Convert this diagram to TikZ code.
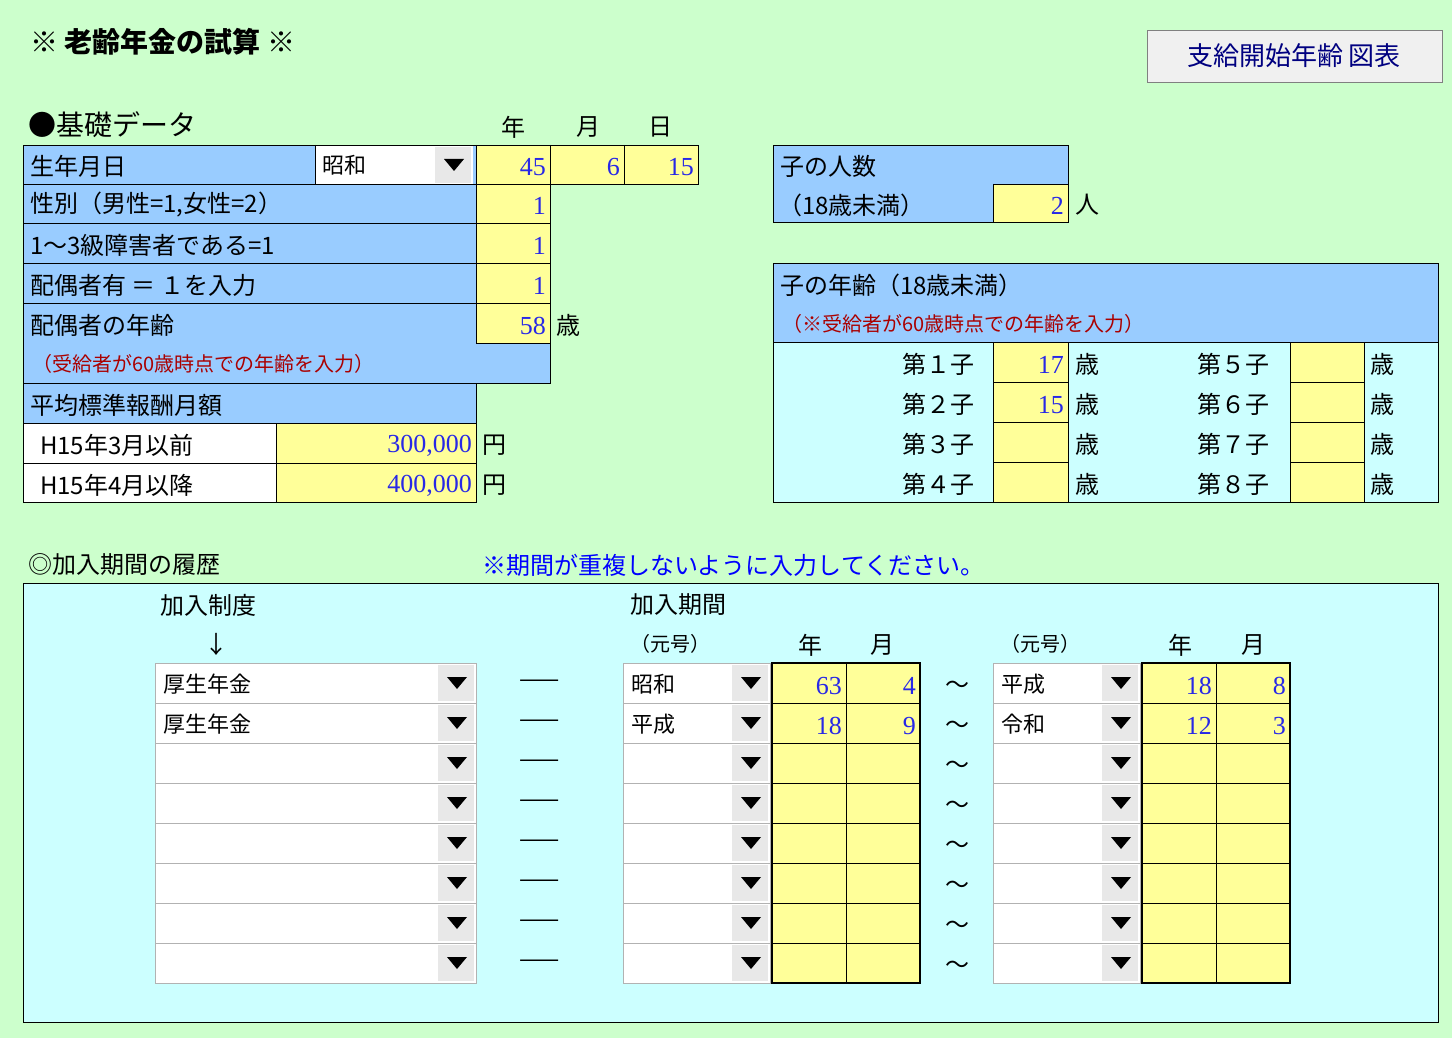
\documentclass[tikz,border=0pt]{standalone}
\usepackage{fontspec}
\setmainfont{Noto Sans CJK JP}
\newfontfamily\numfont{Liberation Serif}
\usepackage{xcolor}
\usepackage{tikz}

\definecolor{bggreen}{RGB}{204,255,204}
\definecolor{cellblue}{RGB}{153,204,255}
\definecolor{cellyellow}{RGB}{255,255,153}
\definecolor{cellcyan}{RGB}{204,255,255}
\definecolor{numblue}{RGB}{40,40,230}
\definecolor{noteRed}{RGB}{170,0,0}

\tikzset{
  lbl/.style={anchor=west, inner sep=0pt, font=\fontsize{24}{28}\selectfont},
  hdr/.style={inner sep=0pt, font=\fontsize{24}{28}\selectfont},
  num/.style={anchor=east, inner sep=0pt, text=numblue, font=\numfont\fontsize{26}{28}\selectfont},
  note/.style={anchor=west, inner sep=0pt, text=noteRed, font=\fontsize{20}{24}\selectfont},
  box/.style={draw=black, line width=0.8pt}
}

% dropdown button: right edge, top edge
\newcommand{\ddbtn}[2]{%
  \fill[gray!18] (#1-38,#2+2) rectangle (#1-2,#2+38);
  \fill (#1-29,#2+14) -- (#1-9,#2+14) -- (#1-19,#2+26) -- cycle;}

\begin{document}
\begin{tikzpicture}[x=1pt,y=-1pt]
\useasboundingbox (0,0) rectangle (1452,1038);
\fill[bggreen] (0,0) rectangle (1452,1038);

% Titel
\node[anchor=west, inner sep=0pt, font=\bfseries\fontsize{28}{30}\selectfont] (title) at (30,42) {※ 老齢年金の試算 ※};
\draw[fill=gray!12, draw=gray] (1147,30) rectangle (1442,82);
\node[hdr, text=blue!50!black, font=\fontsize{26}{28}\selectfont] (btn) at (1294,56) {支給開始年齢 図表};

% Basisdaten
\node[lbl, font=\fontsize{28}{30}\selectfont] (basis) at (28,125) {●基礎データ};
\node[hdr] (hy) at (513,127) {年};
\node[hdr] (hm) at (588,127) {月};
\node[hdr] (hd) at (660,127) {日};

\fill[cellblue] (23,145) rectangle (476,303);
\fill[cellblue] (23,303) rectangle (550,383);
\fill[cellblue] (23,383) rectangle (476,423);
\fill[white] (315,145) rectangle (473,184);
\ddbtn{473}{145}
\fill[cellyellow] (476,145) rectangle (698,184);
\fill[cellyellow] (476,184) rectangle (550,343);
\fill[white] (23,423) rectangle (276,502);
\fill[cellyellow] (276,423) rectangle (476,502);
% Linien
\draw[box] (23,145) rectangle (698,184);
\draw[box] (550,145) -- (550,184) (624,145) -- (624,184) (476,145) -- (476,343);
\draw[box] (315,145) -- (315,184);
\foreach \y in {223,263,303} \draw[box] (23,\y) -- (550,\y);
\draw[box] (23,184) -- (23,383) -- (550,383) -- (550,184);
\draw[box] (476,343) -- (550,343);
\draw[box] (23,383) rectangle (476,502);
\draw[box] (23,423) -- (476,423) (23,463) -- (476,463) (276,423) -- (276,502);

\node[lbl] (birth) at (30,166) {生年月日};
\node[lbl, font=\fontsize{22}{24}\selectfont] (era) at (322,165) {昭和};
\node[num] (by) at (546,167) {45};
\node[num] (bm) at (620,167) {6};
\node[num] (bd) at (694,167) {15};
\node[lbl] (sex) at (30,205) {性別（男性=1,女性=2）};
\node[num] (vsex) at (546,206) {1};
\node[lbl] (handi) at (30,245) {1～3級障害者である=1};
\node[num] (vhandi) at (546,246) {1};
\node[lbl] (spouse) at (30,285) {配偶者有 ＝ １を入力};
\node[num] (vspouse) at (546,286) {1};
\node[lbl] (sage) at (30,325) {配偶者の年齢};
\node[num] (vsage) at (546,326) {58};
\node[lbl] (sai) at (556,325) {歳};
\node[note] (snote) at (32,364) {（受給者が60歳時点での年齢を入力）};
\node[lbl] (avg) at (30,405) {平均標準報酬月額};
\node[lbl] (h15a) at (40,445) {H15年3月以前};
\node[num] (v15a) at (472,446) {300,000};
\node[lbl] (yen1) at (482,445) {円};
\node[lbl] (h15b) at (40,485) {H15年4月以降};
\node[num] (v15b) at (472,486) {400,000};
\node[lbl] (yen2) at (482,485) {円};

% Kinder
\fill[cellblue] (773,145) rectangle (1068,222);
\fill[cellyellow] (993,184) rectangle (1068,222);
\draw[box] (773,145) rectangle (1068,222);
\draw[box] (993,184) -- (1068,184) (993,184) -- (993,222);
\node[lbl] (kn) at (780,166) {子の人数};
\node[lbl] (kn2) at (778,205) {（18歳未満）};
\node[num] (vkn) at (1064,206) {2};
\node[lbl] (nin) at (1075,205) {人};

\fill[cellblue] (773,263) rectangle (1438,342);
\fill[cellcyan] (773,342) rectangle (1438,502);
\draw[box] (773,263) rectangle (1438,502);
\draw[box] (773,342) -- (1438,342);
\node[lbl] (ka) at (780,285) {子の年齢（18歳未満）};
\node[note] (kanote) at (782,324) {（※受給者が60歳時点での年齢を入力）};
\foreach \i/\j/\a/\b [count=\r from 0] in {１/５/17/,２/６/15/,３/７//,４/８//} {
  \pgfmathsetmacro{\ty}{342+40*\r}
  \fill[cellyellow] (993,\ty) rectangle (1068,\ty+40);
  \fill[cellyellow] (1290,\ty) rectangle (1364,\ty+40);
  \draw[box] (993,\ty) rectangle (1068,\ty+40);
  \draw[box] (1290,\ty) rectangle (1364,\ty+40);
  \node[hdr, anchor=east] (kl\r) at (975,\ty+22) {第\i 子};
  \node[num] (kv\r) at (1064,\ty+23) {\a};
  \node[lbl] (ks\r) at (1075,\ty+22) {歳};
  \node[hdr, anchor=east] (kr\r) at (1270,\ty+22) {第\j 子};
  \node[num] (kw\r) at (1360,\ty+23) {\b};
  \node[lbl] (kt\r) at (1370,\ty+22) {歳};
}

% Beitragszeiten
\node[lbl] (hist) at (28,565) {◎加入期間の履歴};
\node[lbl, text=blue] (warn) at (482,565) {※期間が重複しないように入力してください。};
\fill[cellcyan] (23,583) rectangle (1438,1022);
\draw[box] (23,583) rectangle (1438,1022);
\node[lbl] (sys) at (160,605) {加入制度};
\node[hdr] (arr) at (216,644) {↓};
\node[lbl] (per) at (630,605) {加入期間};
\node[lbl, font=\fontsize{20}{24}\selectfont] (g1) at (630,644) {（元号）};
\node[hdr] (py1) at (810,645) {年};
\node[hdr] (pm1) at (882,645) {月};
\node[lbl, font=\fontsize{20}{24}\selectfont] (g2) at (1000,644) {（元号）};
\node[hdr] (py2) at (1180,645) {年};
\node[hdr] (pm2) at (1253,645) {月};

\foreach \s/\ea/\ya/\ma/\eb/\yb/\mb [count=\r from 0] in
  {厚生年金/昭和/63/4/平成/18/8, 厚生年金/平成/18/9/令和/12/3,
   //////, //////, //////, //////, //////, //////} {
  \pgfmathsetmacro{\ty}{663+40*\r}
  \fill[white] (155,\ty) rectangle (476,\ty+40);
  \fill[white] (623,\ty) rectangle (770,\ty+40);
  \fill[white] (993,\ty) rectangle (1140,\ty+40);
  \fill[cellyellow] (772,\ty) rectangle (920,\ty+40);
  \fill[cellyellow] (1142,\ty) rectangle (1290,\ty+40);
  \ddbtn{476}{\ty}
  \ddbtn{770}{\ty}
  \ddbtn{1140}{\ty}
  \draw[gray!60] (155,\ty) rectangle (476,\ty+40);
  \draw[gray!60] (623,\ty) rectangle (770,\ty+40);
  \draw[gray!60] (993,\ty) rectangle (1140,\ty+40);
  \draw[box] (772,\ty) rectangle (846,\ty+40) (846,\ty) rectangle (920,\ty+40);
  \draw[box] (1142,\ty) rectangle (1216,\ty+40) (1216,\ty) rectangle (1290,\ty+40);
  \node[lbl, font=\fontsize{22}{24}\selectfont] (s\r) at (163,\ty+21) {\s};
  \node[hdr] (dash\r) at (540,\ty+21) {------};
  \node[lbl, font=\fontsize{22}{24}\selectfont] (ea\r) at (631,\ty+21) {\ea};
  \node[num] (ya\r) at (842,\ty+23) {\ya};
  \node[num] (ma\r) at (916,\ty+23) {\ma};
  \node[hdr] (til\r) at (957,\ty+24) {～};
  \node[lbl, font=\fontsize{22}{24}\selectfont] (eb\r) at (1001,\ty+21) {\eb};
  \node[num] (yb\r) at (1212,\ty+23) {\yb};
  \node[num] (mb\r) at (1286,\ty+23) {\mb};
}
\draw[line width=1.6pt] (772,663) rectangle (920,983);
\draw[line width=1.6pt] (1142,663) rectangle (1290,983);
\end{tikzpicture}
\end{document}
